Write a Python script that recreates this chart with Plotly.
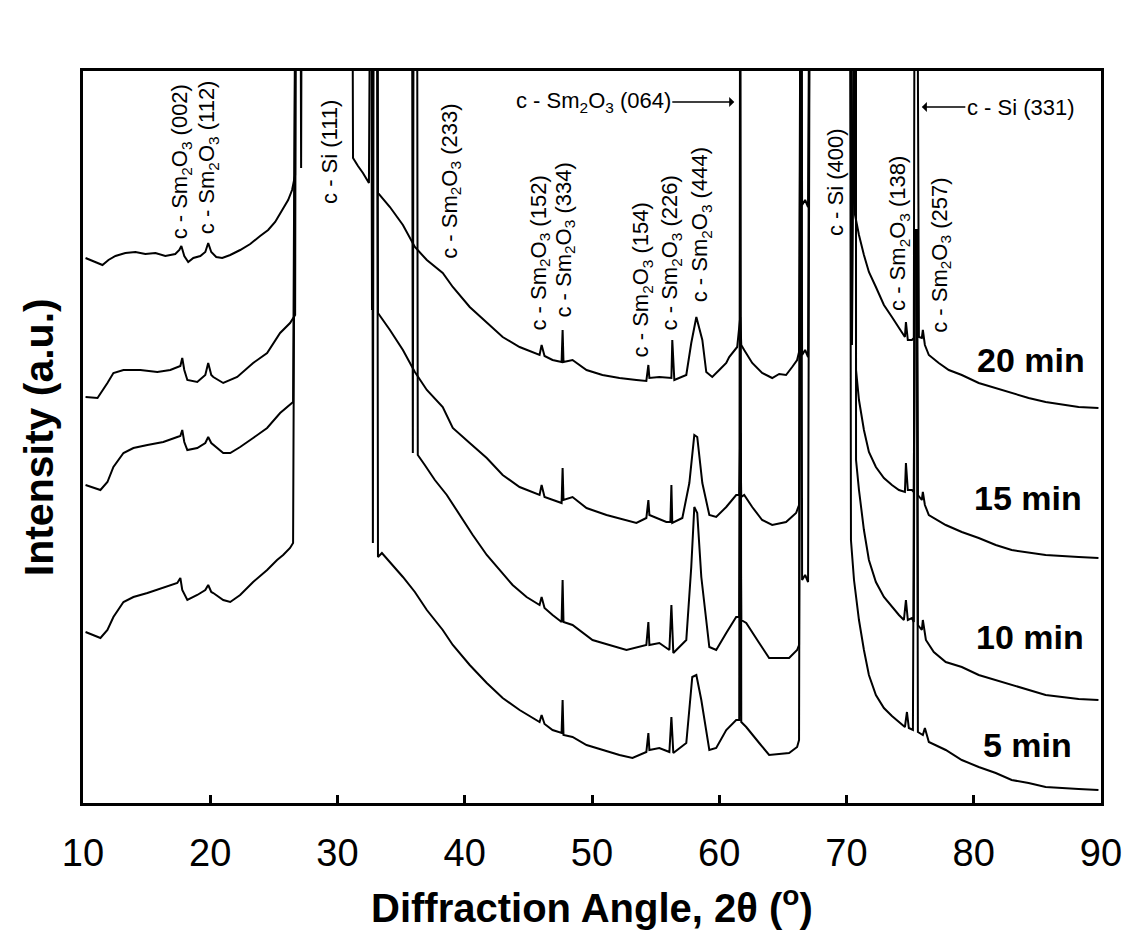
import plotly.graph_objects as go

# ---------------- data (2-theta in degrees, intensity in a.u.; 1000 = off scale) -------------
x_20 = [10.20,10.98,11.53,12.00,12.55,13.33,14.12,14.90,15.69,16.47,17.25,17.57,17.73,17.96,18.27,18.67,19.22,19.61,19.84,20.08,
        20.47,20.94,21.57,22.35,23.14,23.92,24.55,25.10,25.65,26.12,26.43,26.67,26.75,27.06,27.14,27.22,31.14,31.22,31.61,32.00,
        32.47,32.63,33.10,33.18,34.12,35.14,36.08,37.02,38.27,39.06,40.39,41.73,42.98,44.31,45.88,46.04,46.27,46.90,47.61,47.69,
        47.76,48.47,49.57,50.82,52.16,53.49,54.27,54.43,54.51,55.29,56.24,56.31,56.47,57.41,57.80,58.20,58.67,58.98,59.45,60.00,
        60.55,60.78,61.41,61.65,61.73,61.96,62.59,63.37,64.16,64.71,65.25,65.73,66.12,66.27,66.43,66.51,66.75,66.98,67.14,70.27,
        70.35,70.51,70.59,70.67,70.98,71.37,71.76,72.31,72.94,73.57,74.12,74.59,74.67,74.82,75.14,75.29,75.37,75.53,75.69,75.92,
        76.00,76.16,76.47,77.25,78.04,79.06,80.39,81.73,82.98,84.31,85.65,88.24,89.80]
y_20 = [545,541,538,543,547,550,551,549,550,547,549,553,557,547,541,545,547,551,560,551,
        546,545,548,553,559,567,573,581,593,603,613,628,1000,1000,635,1000,1000,645,637,630,
        620,1000,1000,610,596,578,556,543,530,516,496,480,466,456,448,458,447,443,441,473,
        441,443,433,428,425,423,422,438,425,426,425,463,423,428,460,486,463,431,426,433,
        440,446,456,486,458,453,440,430,425,429,428,436,443,451,1000,598,603,596,1000,1000,
        623,628,1000,588,568,548,531,516,498,486,475,466,481,463,463,465,1000,1000,466,465,
        473,458,448,440,433,428,420,415,410,405,401,396,395]

x_15 = [10.20,11.14,11.92,12.39,13.18,14.51,15.84,16.86,17.65,17.80,17.96,18.20,18.98,19.61,19.84,20.08,20.24,21.02,22.12,23.37,
        24.47,25.49,26.27,26.67,26.75,32.63,32.71,32.78,33.10,33.18,34.12,35.14,36.08,37.02,38.27,39.06,40.39,41.73,42.98,44.31,
        45.88,46.04,46.27,46.90,47.61,47.69,47.76,48.47,49.57,51.14,52.71,53.49,54.27,54.43,54.51,55.84,56.16,56.24,56.31,57.10,
        57.65,58.04,58.27,58.67,59.22,59.76,60.55,61.33,61.57,61.65,61.73,61.96,62.59,63.37,64.16,65.25,66.04,66.27,66.43,66.51,
        66.75,66.98,67.14,70.35,70.43,70.59,70.74,70.75,70.98,71.37,71.76,72.31,72.94,73.57,74.12,74.59,74.67,74.82,75.14,75.29,
        75.37,75.53,75.61,75.92,76.00,76.16,76.47,77.80,79.06,80.39,81.73,82.98,85.65,88.24,89.80]
y_15 = [406,405,420,430,433,433,431,433,437,445,433,423,421,428,440,428,426,420,426,440,
        450,470,480,488,1000,1000,493,1000,1000,490,473,453,431,413,396,375,360,345,328,316,
        308,318,306,303,300,335,303,306,295,288,283,280,285,303,288,281,281,318,280,285,
        320,368,366,320,288,286,296,308,308,370,306,308,296,283,278,281,290,298,1000,448,
        453,446,1000,1000,458,1000,1000,433,403,373,351,336,325,318,313,311,340,313,313,311,
        573,573,308,303,311,298,288,278,271,265,258,253,248,246,245]

x_10 = [10.20,10.82,11.37,11.92,12.39,13.18,13.96,15.06,16.31,17.41,17.65,17.80,17.96,18.20,18.98,19.61,19.84,20.08,21.02,21.57,
        22.35,23.37,24.47,25.49,26.27,26.51,26.75,35.84,35.92,36.00,36.24,36.31,36.86,37.65,38.59,39.61,40.63,41.73,42.75,43.76,
        44.86,45.88,46.04,46.27,46.90,47.61,47.69,47.76,48.47,50.04,51.37,52.71,54.27,54.43,54.51,55.29,56.08,56.24,56.39,57.41,
        57.80,58.04,58.27,58.59,59.22,59.76,60.55,61.33,61.57,61.65,61.73,62.12,63.14,63.92,65.49,66.12,66.27,66.43,70.74,70.75,
        70.98,71.37,71.76,72.31,72.94,73.57,74.12,74.51,74.67,74.82,75.14,75.29,75.37,75.53,75.61,75.92,76.00,76.24,76.86,77.80,
        79.06,80.39,81.73,82.98,84.31,85.65,88.24,89.80]
y_10 = [318,315,313,321,336,350,355,358,361,366,367,373,361,353,355,360,366,360,350,350,
        356,365,375,390,398,401,1000,1000,350,1000,1000,348,338,323,308,288,268,248,233,218,
        206,198,206,195,188,181,223,181,178,163,158,153,158,181,158,160,153,198,150,163,
        236,296,290,226,156,153,170,186,186,370,183,180,160,145,145,153,158,1000,1000,343,
        313,273,243,221,206,196,188,183,203,183,185,181,573,573,178,173,183,163,151,141,
        136,128,123,118,113,108,104,103]

x_5 = [10.20,10.82,11.37,11.92,12.39,13.18,13.96,15.06,16.31,17.41,17.65,17.80,18.20,18.98,19.61,19.84,20.08,20.24,21.02,21.57,
       22.35,23.37,24.47,25.25,25.73,26.27,26.51,26.75,32.71,32.78,32.86,33.10,33.18,33.49,34.12,35.14,36.08,37.02,38.27,39.06,
       40.39,41.73,42.98,44.31,45.88,46.04,46.27,46.90,47.61,47.69,47.76,48.47,49.57,50.82,52.16,53.18,54.27,54.43,54.51,55.29,
       56.08,56.24,56.39,57.41,57.88,58.20,58.59,59.22,59.76,60.55,61.33,61.57,61.65,61.73,62.12,63.14,63.92,65.49,66.12,66.27,
       66.43,66.51,66.75,66.98,67.14,70.27,70.35,70.59,70.98,71.37,71.76,72.31,72.94,73.57,74.12,74.59,74.75,74.90,75.22,75.37,
       75.53,75.61,76.00,76.16,76.47,77.80,79.06,80.39,81.73,82.98,84.31,85.65,88.24,89.80]
y_5 = [171,168,165,173,186,201,206,210,215,220,225,213,203,208,213,218,211,210,203,201,
       208,221,233,243,248,255,260,1000,1000,260,1000,1000,246,250,241,226,211,193,173,158,
       138,120,105,93,81,88,79,73,70,103,68,66,58,53,48,45,51,70,53,55,
       51,86,50,60,126,128,103,53,55,73,83,83,1000,81,76,60,48,50,56,63,
       1000,223,228,221,1000,1000,263,223,183,153,128,108,95,87,81,76,91,75,73,573,
       573,71,68,75,61,53,43,36,30,23,20,16,14,13]

series = [("20 min", x_20, y_20), ("15 min", x_15, y_15), ("10 min", x_10, y_10), ("5 min", x_5, y_5)]

x_ticks = [10, 20, 30, 40, 50, 60, 70, 80, 90]

# peak labels (rotated): text, position (deg, a.u.)
SM = "c - Sm<sub>2</sub>O<sub>3</sub> "
peak_labels = [
    (SM + "(002)", 17.73, 641), (SM + "(112)", 19.84, 646), ("c - Si (111)", 29.33, 651),
    (SM + "(233)", 38.90, 622), (SM + "(152)", 45.88, 550), (SM + "(334)", 47.84, 563),
    (SM + "(154)", 53.96, 523), (SM + "(226)", 56.24, 550), (SM + "(444)", 58.59, 578),
    ("c - Si (400)", 69.10, 621), (SM + "(138)", 74.12, 570), (SM + "(257)", 77.41, 548),
]
time_labels = [("20 min", 84.47, 443), ("15 min", 84.24, 305), ("10 min", 84.39, 166), ("5 min", 84.24, 58)]

FONT = "Liberation Sans, Arial, sans-serif"

fig = go.Figure()
for name, xs, ys in series:
    fig.add_trace(go.Scatter(x=xs, y=ys, mode="lines", name=name,
                             line=dict(color="black", width=2), showlegend=False))

ann = []
for t, x, y in peak_labels:
    ann.append(dict(text=t, x=x, y=y, xref="x", yref="y", showarrow=False, textangle=-90,
                    xanchor="center", yanchor="middle", font=dict(family=FONT, size=22, color="black")))
for t, x, y in time_labels:
    ann.append(dict(text="<b>" + t + "</b>", x=x, y=y, xref="x", yref="y", showarrow=False,
                    xanchor="center", yanchor="middle", font=dict(family=FONT, size=34, color="black")))
# arrowed labels
ann.append(dict(text=SM + "(064)", x=61.18, y=701, xref="x", yref="y", showarrow=True,
                ax=-141, ay=0, arrowhead=1, arrowsize=1.3, arrowwidth=1.3, arrowcolor="black",
                font=dict(family=FONT, size=22, color="black")))
ann.append(dict(text="c - Si (331)", x=75.92, y=696, xref="x", yref="y", showarrow=True,
                ax=99, ay=0, arrowhead=1, arrowsize=1.3, arrowwidth=1.3, arrowcolor="black",
                font=dict(family=FONT, size=22, color="black")))
# axis titles
ann.append(dict(text="<b>Intensity (a.u.)</b>", x=-0.043, y=0.5, xref="paper", yref="paper",
                showarrow=False, textangle=-90, xanchor="center", yanchor="middle",
                font=dict(family=FONT, size=41, color="black")))
ann.append(dict(text="<b>Diffraction Angle, 2\u03b8 (<sup>o</sup>)</b>", x=0.5, y=-0.139,
                xref="paper", yref="paper", showarrow=False, xanchor="center", yanchor="middle",
                font=dict(family=FONT, size=40, color="black")))

fig.update_layout(
    width=1136, height=936,
    margin=dict(l=83, r=35, t=71, b=133),
    paper_bgcolor="white", plot_bgcolor="white",
    annotations=ann,
    xaxis=dict(range=[10, 90], tickvals=x_ticks, ticktext=[str(v) for v in x_ticks],
               ticks="inside", ticklen=8, tickwidth=3, tickcolor="black",
               showline=True, linewidth=3, linecolor="black", mirror=True,
               showgrid=False, zeroline=False, ticklabelstandoff=14,
               tickfont=dict(family=FONT, size=38, color="black")),
    yaxis=dict(range=[0, 732], showticklabels=False, ticks="",
               showline=True, linewidth=3, linecolor="black", mirror=True,
               showgrid=False, zeroline=False),
)

fig.write_html("out.html")
